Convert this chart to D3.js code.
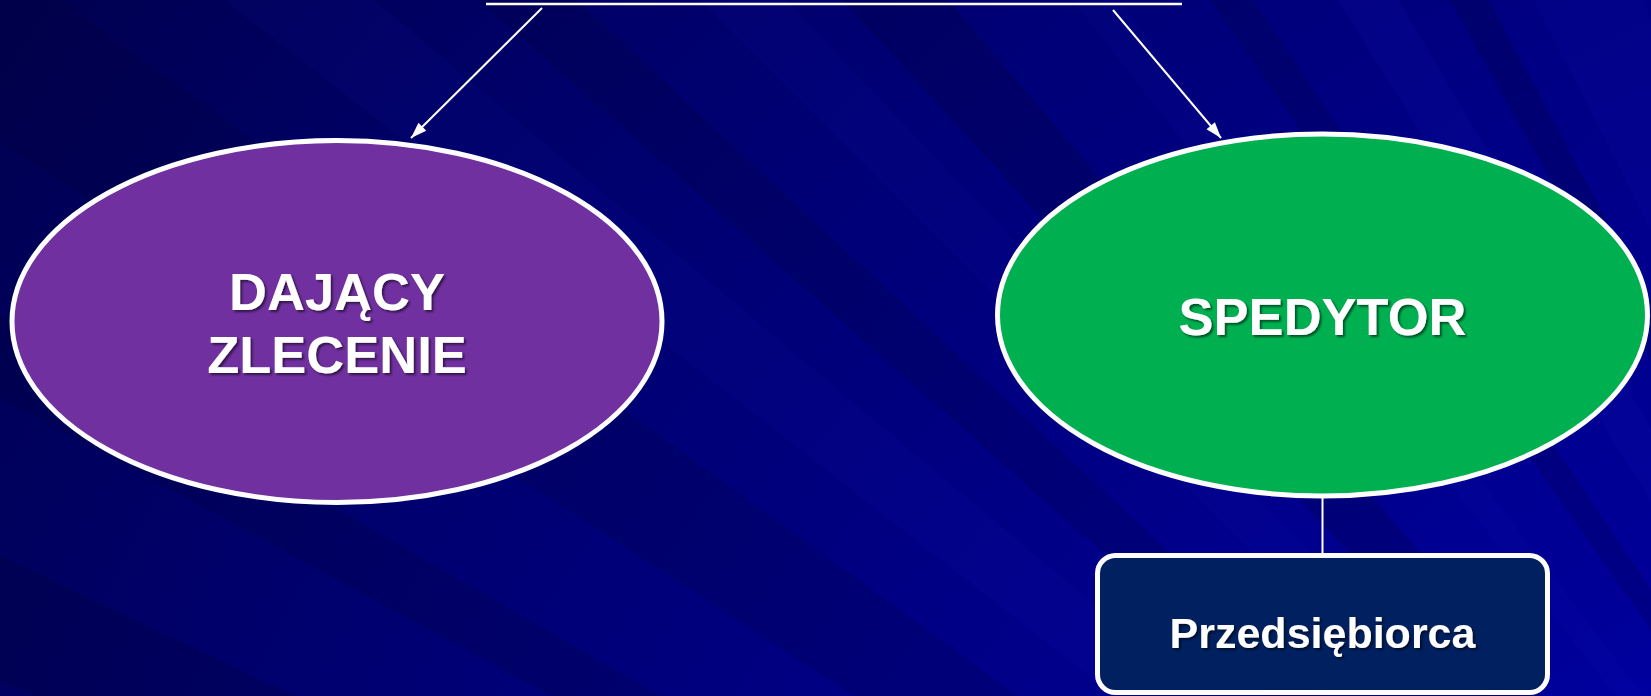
<!DOCTYPE html>
<html><head><meta charset="utf-8">
<script src="https://cdn.jsdelivr.net/npm/d3@7/dist/d3.min.js"></script>
<style>html,body{margin:0;padding:0;overflow:hidden;background:#000070}</style>
</head><body><svg id="c" width="1651" height="696"></svg>
<script>
// ---- content ----
const ovalLabels = [["DAJĄCY", "ZLECENIE"], ["SPEDYTOR"]];
const ovalFills = ["#7030A0", "#00B050"];
const boxLabels = ["Przedsiębiorca"];
const boxFills = ["#002060"];
// background streaks: [angle start, angle end (deg, from light source), tone, opacity]
const streakStart = [23.0, 28.5, 33.0, 38.0, 41.5, 45.0, 47.5, 52.0, 55.0, 58.0, 60.8, 63.0];
const streakEnd   = [25.5, 30.0, 36.0, 40.0, 43.0, 46.5, 49.5, 53.0, 56.0, 59.5, 61.8, 66.0];
const streakTone  = ["d", "d", "d", "l", "d", "l", "d", "l", "d", "l", "d", "l"];
const streakAlpha = [0.2, 0.16, 0.15, 0.06, 0.16, 0.05, 0.2, 0.05, 0.16, 0.07, 0.2, 0.06];

// ---- layout ----
const W = 1651, H = 696;
const src = [2400, 1700];
const ovalCenters = [[337, 321.5], [1322.5, 315]];
const ovalR = [325, 181];
const box = {x: 1097.5, y: 555.5, w: 450, h: 137, r: 18};
const titleLine = {x1: 486, x2: 1182, y: 4};
const arrows = [[[542, 8], [411, 138]], [[1113, 10], [1221, 138]]];

const svg = d3.select("#c");
const defs = svg.append("defs");
const rg = defs.append("radialGradient").attr("id", "bg").attr("gradientUnits", "userSpaceOnUse")
  .attr("cx", src[0]).attr("cy", src[1]).attr("r", 3000);
[[0.35, "#0000AC"], [0.45, "#000098"], [0.6, "#000086"], [0.8, "#00006C"], [1, "#00004C"]]
  .forEach(s => rg.append("stop").attr("offset", s[0]).attr("stop-color", s[1]));
const f = defs.append("filter").attr("id", "sh").attr("x", "-10%").attr("y", "-20%").attr("width", "130%").attr("height", "150%");
f.append("feDropShadow").attr("dx", 2).attr("dy", 2).attr("stdDeviation", 1.2)
  .attr("flood-color", "#000").attr("flood-opacity", 0.55);
defs.append("marker").attr("id", "ah").attr("markerUnits", "userSpaceOnUse")
  .attr("viewBox", "-1 -7 18 14").attr("refX", 16).attr("refY", 0)
  .attr("markerWidth", 18).attr("markerHeight", 14).attr("orient", "auto")
  .append("path").attr("d", "M0,-5.5L16,0L0,5.5Z").attr("fill", "#fff");

svg.append("rect").attr("width", W).attr("height", H).attr("fill", "url(#bg)");
const L = 6000, rad = Math.PI / 180;
svg.append("g").selectAll("path").data(streakStart.map((a, i) => i)).join("path")
  .attr("d", i => {
    const a1 = streakStart[i] * rad, a2 = streakEnd[i] * rad;
    return d3.line()([src, [src[0] - L * Math.cos(a1), src[1] - L * Math.sin(a1)],
                      [src[0] - L * Math.cos(a2), src[1] - L * Math.sin(a2)]]) + "Z";
  })
  .attr("fill", i => streakTone[i] === "d" ? "#000028" : "#2a2ae0")
  .attr("fill-opacity", i => streakAlpha[i]);

// title underline (title itself is above the visible area)
svg.append("line").attr("x1", titleLine.x1).attr("x2", titleLine.x2)
  .attr("y1", titleLine.y).attr("y2", titleLine.y).attr("stroke", "#fff").attr("stroke-width", 2.5);

// arrows
svg.append("g").selectAll("line").data(arrows).join("line")
  .attr("x1", d => d[0][0]).attr("y1", d => d[0][1]).attr("x2", d => d[1][0]).attr("y2", d => d[1][1])
  .attr("stroke", "#fff").attr("stroke-width", 2).attr("marker-end", "url(#ah)");

// connector
svg.append("line").attr("x1", ovalCenters[1][0]).attr("x2", ovalCenters[1][0])
  .attr("y1", ovalCenters[1][1] + ovalR[1]).attr("y2", box.y)
  .attr("stroke", "#fff").attr("stroke-width", 2);

// ovals
const og = svg.append("g").selectAll("g").data(ovalLabels).join("g")
  .attr("transform", (d, i) => `translate(${ovalCenters[i][0]},${ovalCenters[i][1]})`);
og.append("ellipse").attr("rx", ovalR[0]).attr("ry", ovalR[1])
  .attr("fill", (d, i) => ovalFills[i]).attr("stroke", "#fff").attr("stroke-width", 5);
og.each(function (lines, i) {
  const g = d3.select(this);
  const lh = 63, n = lines.length;
  const t = g.append("text").attr("text-anchor", "middle").attr("fill", "#fff")
    .attr("font-family", "'Liberation Sans', Arial, sans-serif").attr("font-weight", "bold")
    .attr("font-size", 52.5).attr("filter", "url(#sh)");
  lines.forEach((s, k) => {
    t.append("tspan").attr("x", 0).attr("y", (k - (n - 1) / 2) * lh + 19.5).text(s);
  });
});

// box
const bg = svg.append("g").selectAll("g").data(boxLabels).join("g");
bg.append("rect").attr("x", box.x).attr("y", box.y).attr("width", box.w).attr("height", box.h)
  .attr("rx", box.r).attr("fill", (d, i) => boxFills[i]).attr("stroke", "#fff").attr("stroke-width", 5);
bg.append("text").attr("x", box.x + box.w / 2).attr("y", 648).attr("text-anchor", "middle")
  .attr("fill", "#fff").attr("font-family", "'Liberation Sans', Arial, sans-serif")
  .attr("font-weight", "bold").attr("font-size", 43).attr("filter", "url(#sh)").text(d => d);
</script></body></html>
